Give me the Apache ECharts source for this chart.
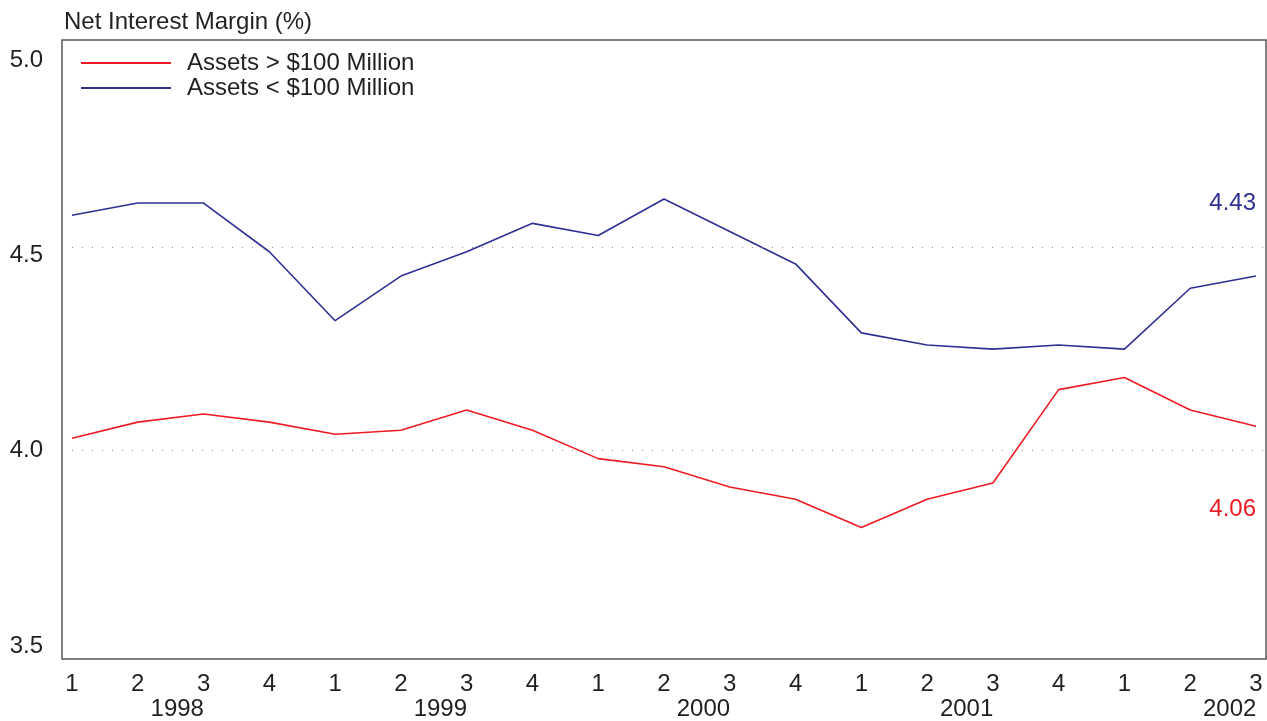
<!doctype html>
<html>
<head>
<meta charset="utf-8">
<script src="https://cdn.jsdelivr.net/npm/echarts@6/dist/echarts.min.js"></script>
<style>
	html, body { margin: 0; padding: 0; background: #fff; }
	#chart { width: 1267px; height: 721px; }
</style>
</head>
<body>
<div id="chart"></div>
<script>
// quarters along the bottom, year under each group of four
var quarters = ['1','2','3','4','1','2','3','4','1','2','3','4','1','2','3','4','1','2','3'];
var years = ['1998','1999','2000','2001','2002'];
// net interest margin, %
var bigBanks   = [4.03,4.07,4.09,4.07,4.04,4.05,4.10,4.05,3.98,3.96,3.91,3.88,3.81,3.88,3.92,4.15,4.18,4.10,4.06];
var smallBanks = [4.58,4.61,4.61,4.49,4.32,4.43,4.49,4.56,4.53,4.62,4.54,4.46,4.29,4.26,4.25,4.26,4.25,4.40,4.43];
var yTicks = [3.5, 4.0, 4.5, 5.0];
var gridValues = [4.0, 4.5];

var font = '"Liberation Sans", Arial, Helvetica, sans-serif';
var fs = 24;
var txt = '#231f20';
var red = '#ed1c24';
var blue = '#2e3192';

function toPoints(arr) {
	var out = [];
	for (var i = 0; i < arr.length; i++) {
		out.push([i + 1, arr[i]]);
	}
	return out;
}

// the year label sits a bit right of the 2nd quarter of each year
var yearPos = [];
for (var i = 0; i < years.length; i++) {
	yearPos.push(i * 4 + 2.6);
}

var myChart = echarts.init(document.getElementById('chart'));

var option = {
	animation: false,
	textStyle: { fontFamily: font },
	title: {
		text: 'Net Interest Margin (%)',
		left: 59,
		top: 5,
		textStyle: { fontFamily: font, fontSize: fs, fontWeight: 'normal', color: txt }
	},
	legend: {
		orient: 'vertical',
		left: 76,
		top: 46,
		itemWidth: 90,
		itemHeight: 2,
		itemGap: 1,
		icon: 'rect',
		data: ['Assets > $100 Million', 'Assets < $100 Million'],
		textStyle: { fontFamily: font, fontSize: fs, color: txt, padding: [0, 0, 0, 11] }
	},
	grid: {
		left: 62,
		right: 1,
		top: 40,
		bottom: 60,
		show: true,
		borderColor: '#555',
		borderWidth: 1.5,
		backgroundColor: 'transparent'
	},
	xAxis: [{
		type: 'value',
		min: 0.848,
		max: 19.152,
		axisLine: { show: false },
		axisTick: { show: false },
		splitLine: { show: false },
		axisLabel: {
			customValues: quarters.map(function (q, i) { return i + 1; }),
			formatter: function (v) { return quarters[Math.round(v) - 1]; },
			fontFamily: font,
			fontSize: fs,
			color: txt,
			margin: 13
		}
	}, {
		type: 'value',
		position: 'bottom',
		offset: 25,
		min: 0.848,
		max: 19.152,
		axisLine: { show: false },
		axisTick: { show: false },
		splitLine: { show: false },
		axisLabel: {
			customValues: yearPos,
			formatter: function (v) { return years[Math.round((v - 2.6) / 4)]; },
			fontFamily: font,
			fontSize: fs,
			color: txt,
			margin: 13
		}
	}],
	yAxis: [{
		type: 'value',
		min: 3.486,
		max: 5.012,
		axisLine: { show: false },
		axisTick: { show: false },
		splitLine: { show: false },
		axisLabel: { show: false }
	}, {
		type: 'value',
		position: 'left',
		min: 3.467,
		max: 5.051,
		axisLine: { show: false },
		axisTick: { show: false },
		splitLine: { show: false },
		axisLabel: {
			customValues: yTicks,
			formatter: function (v) { return v.toFixed(1); },
			fontFamily: font,
			fontSize: fs,
			color: txt,
			margin: 19
		}
	}],
	series: [{
		name: 'Assets > $100 Million',
		type: 'line',
		data: toPoints(bigBanks),
		color: red,
		showSymbol: false,
		lineStyle: { width: 1.6, color: red },
		endLabel: {
			show: true,
			formatter: function (p) { return p.value[1].toFixed(2); },
			fontFamily: font,
			fontSize: fs,
			color: red,
			align: 'right',
			verticalAlign: 'middle',
			distance: 0,
			offset: [0, 83]
		},
		markLine: {
			silent: true,
			symbol: 'none',
			label: { show: false },
			lineStyle: { color: '#8a8a8a', type: [1, 9], width: 1 },
			data: gridValues.map(function (v) { return { yAxis: v }; })
		}
	}, {
		name: 'Assets < $100 Million',
		type: 'line',
		data: toPoints(smallBanks),
		color: blue,
		showSymbol: false,
		lineStyle: { width: 1.6, color: blue },
		endLabel: {
			show: true,
			formatter: function (p) { return p.value[1].toFixed(2); },
			fontFamily: font,
			fontSize: fs,
			color: blue,
			align: 'right',
			verticalAlign: 'middle',
			distance: 0,
			offset: [0, -73]
		}
	}]
};

myChart.setOption(option);
</script>
</body>
</html>
